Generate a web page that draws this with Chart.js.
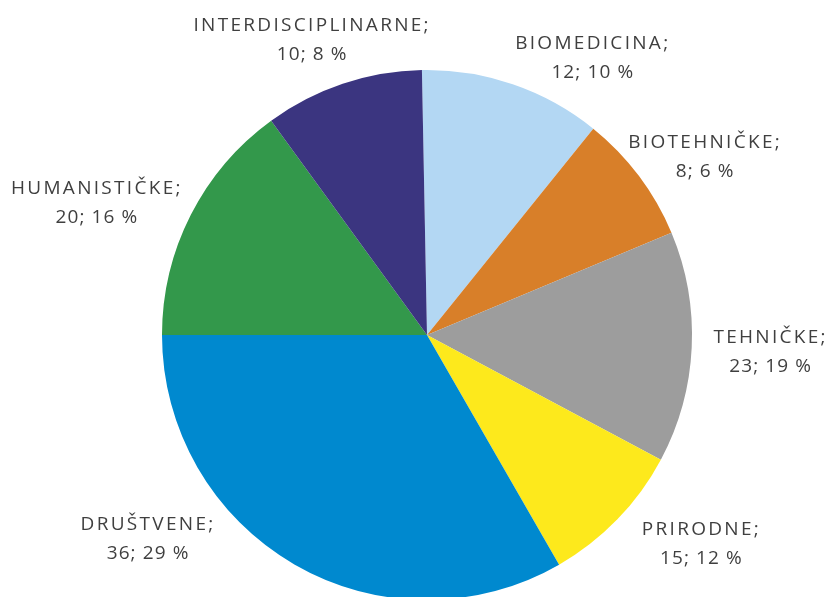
<!DOCTYPE html>
<html>
<head>
<meta charset="utf-8">
<script src="https://cdn.jsdelivr.net/npm/chart.js@4/dist/chart.umd.min.js"></script>
<style>
  html, body { margin: 0; padding: 0; background: #fff; overflow: hidden; }
  #wrap { width: 830px; height: 640px; }
</style>
</head>
<body>
<div id="wrap"><canvas id="pie" width="830" height="640"></canvas></div>
<script>
// categories, clockwise from 12 o'clock
const categories = ['BIOMEDICINA', 'BIOTEHNIČKE', 'TEHNIČKE', 'PRIRODNE', 'DRUŠTVENE', 'HUMANISTIČKE', 'INTERDISCIPLINARNE'];
const counts = [12, 8, 23, 15, 36, 20, 10];
const percents = [10, 6, 19, 12, 29, 16, 8];
// share of the circle each slice takes in the picture (%)
const sliceShares = [11.1, 7.9, 14.1, 8.9, 33.3, 15.0, 9.7];

const colors = ['#b3d7f3', '#d87f29', '#9d9d9d', '#fde91c', '#0089cf', '#33984b', '#3b3580'];

// label placement around the pie: turn from slice middle (deg), distance from centre (px)
const labelTurn = [11.9, 4.1, 0, -7, 23.9, -5, -2.6];
const labelDist = [324, 331, 344, 344, 345, 356, 318];

const labelPlugin = {
    id: 'outsideLabels',
    afterDatasetsDraw(chart) {
        const ctx = chart.ctx;
        const arcs = chart.getDatasetMeta(0).data;
        const spacing = 'letterSpacing' in ctx;
        ctx.save();
        ctx.font = '19px "Open Sans"';
        ctx.fillStyle = '#3f3f3f';
        ctx.textAlign = 'center';
        ctx.textBaseline = 'alphabetic';
        arcs.forEach((arc, i) => {
            const p = arc.getProps(['x', 'y', 'startAngle', 'endAngle'], true);
            const a = (p.startAngle + p.endAngle) / 2 + labelTurn[i] * Math.PI / 180;
            const lx = p.x + Math.cos(a) * labelDist[i];
            const ly = p.y + Math.sin(a) * labelDist[i];
            if (spacing) ctx.letterSpacing = '2.3px';
            ctx.fillText(categories[i] + ';', lx, ly - 14.5 + 6.8);
            if (spacing) ctx.letterSpacing = '1.1px';
            ctx.fillText(counts[i] + '; ' + percents[i] + ' %', lx, ly + 14.5 + 6.8);
        });
        ctx.restore();
    }
};

new Chart(document.getElementById('pie'), {
    type: 'pie',
    data: {
        labels: categories,
        datasets: [{
            data: sliceShares,
            backgroundColor: colors,
            borderWidth: 0
        }]
    },
    options: {
        responsive: false,
        animation: false,
        rotation: -1.1,
        layout: { padding: { left: 162, right: 138, top: 70, bottom: 40 } },
        plugins: {
            legend: { display: false },
            tooltip: { enabled: false }
        }
    },
    plugins: [labelPlugin]
});
</script>
</body>
</html>
